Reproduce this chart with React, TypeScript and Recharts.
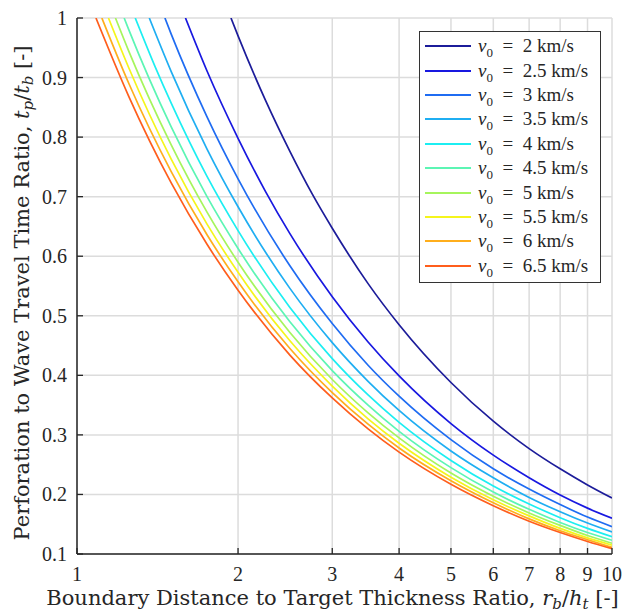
import React from 'react';
import { LineChart, Line, XAxis, YAxis, CartesianGrid } from 'recharts';

// impact velocities, km/s
const velocities = [2, 2.5, 3, 3.5, 4, 4.5, 5, 5.5, 6, 6.5];
const colors = ['#1c1c9a', '#1818e0', '#1f6cf2', '#1faef2', '#1ceef2', '#5cf5b4', '#a6f55c', '#f5f51c', '#ffae1c', '#ff5e1c'];

// r_b/h_t samples and t_p/t_b
const xV20 = [1.94, 2, 2.25, 2.5, 2.75, 3, 3.5, 4, 5, 6, 7, 8, 9, 10];
const yV20 = [1, 0.97, 0.862, 0.776, 0.705, 0.647, 0.554, 0.485, 0.388, 0.323, 0.277, 0.243, 0.216, 0.194];
const xV25 = [1.595, 1.75, 2, 2.25, 2.5, 3, 3.5, 4, 5, 6, 7, 8, 9, 10];
const yV25 = [1, 0.911, 0.798, 0.709, 0.638, 0.532, 0.456, 0.399, 0.319, 0.266, 0.228, 0.199, 0.177, 0.16];
const xV30 = [1.46, 1.5, 1.75, 2, 2.5, 3, 3.5, 4, 5, 6, 7, 8, 9, 10];
const yV30 = [1, 0.973, 0.834, 0.73, 0.584, 0.487, 0.417, 0.365, 0.292, 0.243, 0.209, 0.183, 0.162, 0.146];
const xV35 = [1.365, 1.5, 1.75, 2, 2.5, 3, 3.5, 4, 5, 6, 7, 8, 9, 10];
const yV35 = [1, 0.91, 0.78, 0.683, 0.546, 0.455, 0.39, 0.341, 0.273, 0.228, 0.195, 0.171, 0.152, 0.137];
const xV40 = [1.285, 1.4, 1.5, 1.75, 2, 2.5, 3, 3.5, 4, 5, 6, 7, 8, 9, 10];
const yV40 = [1, 0.918, 0.857, 0.734, 0.643, 0.514, 0.428, 0.367, 0.321, 0.257, 0.214, 0.184, 0.161, 0.143, 0.129];
const xV45 = [1.225, 1.25, 1.5, 1.75, 2, 2.5, 3, 3.5, 4, 5, 6, 7, 8, 9, 10];
const yV45 = [1, 0.98, 0.817, 0.7, 0.613, 0.49, 0.408, 0.35, 0.306, 0.245, 0.204, 0.175, 0.153, 0.136, 0.123];
const xV50 = [1.18, 1.25, 1.5, 1.75, 2, 2.5, 3, 3.5, 4, 5, 6, 7, 8, 9, 10];
const yV50 = [1, 0.944, 0.787, 0.674, 0.59, 0.472, 0.393, 0.337, 0.295, 0.236, 0.197, 0.169, 0.148, 0.131, 0.118];
const xV55 = [1.145, 1.25, 1.5, 1.75, 2, 2.5, 3, 3.5, 4, 5, 6, 7, 8, 9, 10];
const yV55 = [1, 0.916, 0.763, 0.654, 0.573, 0.458, 0.382, 0.327, 0.286, 0.229, 0.191, 0.164, 0.143, 0.127, 0.115];
const xV60 = [1.113, 1.25, 1.5, 1.75, 2, 2.5, 3, 3.5, 4, 5, 6, 7, 8, 9, 10];
const yV60 = [1, 0.89, 0.742, 0.636, 0.557, 0.445, 0.371, 0.318, 0.278, 0.223, 0.186, 0.159, 0.139, 0.124, 0.111];
const xV65 = [1.085, 1.25, 1.5, 1.75, 2, 2.5, 3, 3.5, 4, 5, 6, 7, 8, 9, 10];
const yV65 = [1, 0.868, 0.723, 0.62, 0.543, 0.434, 0.362, 0.31, 0.271, 0.217, 0.181, 0.155, 0.136, 0.121, 0.109];

const xTicks = [1, 2, 3, 4, 5, 6, 7, 8, 9, 10];
const yTicks = [0.1, 0.2, 0.3, 0.4, 0.5, 0.6, 0.7, 0.8, 0.9, 1];

const xSets = [xV20, xV25, xV30, xV35, xV40, xV45, xV50, xV55, xV60, xV65];
const ySets = [yV20, yV25, yV30, yV35, yV40, yV45, yV50, yV55, yV60, yV65];

const series = velocities.map((v, i) => ({
  v,
  color: colors[i],
  data: xSets[i].map((x, j) => ({ x, y: ySets[i][j] })),
}));

const INK = '#262626';
const TICK_LEN = 6;
const TICK_FONT = 'Liberation Serif';
const TITLE_FONT = 'DejaVu Serif';

const BottomTick = ({ x, y, payload }: any) => (
  <g>
    <line x1={x} x2={x} y1={y} y2={y - TICK_LEN} stroke={INK} strokeWidth={1.3} />
    <text x={x} y={y + 27} textAnchor="middle" fontFamily={TICK_FONT} fontSize={20} fill={INK}>
      {payload.value}
    </text>
  </g>
);

const LeftTick = ({ x, y, payload }: any) => (
  <g>
    <line x1={x} x2={x + TICK_LEN} y1={y} y2={y} stroke={INK} strokeWidth={1.3} />
    <text x={x - 10} y={y + 7} textAnchor="end" fontFamily={TICK_FONT} fontSize={20} fill={INK}>
      {payload.value}
    </text>
  </g>
);

const TopTick = ({ x, y }: any) => (
  <line x1={x} x2={x} y1={y} y2={y + TICK_LEN} stroke={INK} strokeWidth={1.3} />
);

const RightTick = ({ x, y }: any) => (
  <line x1={x} x2={x - TICK_LEN} y1={y} y2={y} stroke={INK} strokeWidth={1.3} />
);

const XTitle = ({ viewBox }: any) => {
  const cx = viewBox.x + viewBox.width / 2 - 12;
  return (
    <text x={cx} y={viewBox.y + 51} textAnchor="middle" fontFamily={TITLE_FONT} fontSize={21} fill={INK}>
      Boundary Distance to Target Thickness Ratio,{' '}
      <tspan fontStyle="italic">r</tspan>
      <tspan fontStyle="italic" fontSize={15} dy={4}>b</tspan>
      <tspan dy={-4}>/</tspan>
      <tspan fontStyle="italic">h</tspan>
      <tspan fontStyle="italic" fontSize={15} dy={4}>t</tspan>
      <tspan dy={-4}> [-]</tspan>
    </text>
  );
};

const YTitle = ({ viewBox }: any) => {
  const cy = viewBox.y + viewBox.height / 2 + 7;
  const cx = 29;
  return (
    <text
      x={cx}
      y={cy}
      transform={`rotate(-90 ${cx} ${cy})`}
      textAnchor="middle"
      fontFamily={TITLE_FONT}
      fontSize={21}
      fill={INK}
    >
      Perforation to Wave Travel Time Ratio,{' '}
      <tspan fontStyle="italic">t</tspan>
      <tspan fontStyle="italic" fontSize={15} dy={4}>p</tspan>
      <tspan dy={-4}>/</tspan>
      <tspan fontStyle="italic">t</tspan>
      <tspan fontStyle="italic" fontSize={15} dy={4}>b</tspan>
      <tspan dy={-4}> [-]</tspan>
    </text>
  );
};

const LegendBox = () => (
  <div
    style={{
      position: 'absolute',
      left: 419,
      top: 31,
      width: 180,
      padding: '2px 0 4px 0',
      border: '1.5px solid #333',
      background: '#fff',
      fontFamily: TICK_FONT,
      fontSize: 19,
      color: INK,
    }}
  >
    {series.map((s) => (
      <div key={s.v} style={{ display: 'flex', alignItems: 'center', height: 24.4 }}>
        <span style={{ display: 'inline-block', width: 46, height: 2, marginLeft: 5, marginRight: 7, background: s.color }} />
        <span style={{ whiteSpace: 'pre' }}>
          <i>v</i>
          <sub style={{ fontSize: 13, lineHeight: 0 }}>0</sub>
          {'\u2002=\u2002'}
          {s.v}
          {' km/s'}
        </span>
      </div>
    ))}
  </div>
);

export default function App() {
  return (
    <div style={{ position: 'absolute', left: 0, top: 0, width: 634, height: 614 }}>
      <LineChart width={634} height={614} margin={{ top: 18, right: 22, left: 0, bottom: 0 }}>
        <CartesianGrid stroke="#dcdcdc" strokeWidth={1.5} horizontalValues={yTicks} verticalValues={xTicks} />
        <XAxis
          dataKey="x"
          type="number"
          scale="log"
          domain={[1, 10]}
          allowDataOverflow
          ticks={xTicks}
          interval={0}
          height={60}
          tickSize={0}
          tickMargin={0}
          tickLine={false}
          tick={<BottomTick />}
          axisLine={{ stroke: INK, strokeWidth: 1.5 }}
          label={<XTitle />}
        />
        <XAxis
          xAxisId="top"
          orientation="top"
          dataKey="x"
          type="number"
          scale="log"
          domain={[1, 10]}
          allowDataOverflow
          ticks={xTicks}
          interval={0}
          height={0}
          tickSize={0}
          tickMargin={0}
          tickLine={false}
          tick={<TopTick />}
          axisLine={{ stroke: INK, strokeWidth: 1.5 }}
        />
        <YAxis
          type="number"
          domain={[0.1, 1]}
          allowDataOverflow
          ticks={yTicks}
          interval={0}
          width={77}
          tickSize={0}
          tickMargin={0}
          tickLine={false}
          tick={<LeftTick />}
          axisLine={{ stroke: INK, strokeWidth: 1.5 }}
          label={<YTitle />}
        />
        <YAxis
          yAxisId="right"
          orientation="right"
          type="number"
          domain={[0.1, 1]}
          allowDataOverflow
          ticks={yTicks}
          interval={0}
          width={0}
          tickSize={0}
          tickMargin={0}
          tickLine={false}
          tick={<RightTick />}
          axisLine={{ stroke: INK, strokeWidth: 1.5 }}
        />
        {series.map((s) => (
          <Line
            key={s.v}
            data={s.data}
            dataKey="y"
            type="monotone"
            stroke={s.color}
            strokeWidth={1.7}
            dot={false}
            activeDot={false}
            isAnimationActive={false}
          />
        ))}
      </LineChart>
      <LegendBox />
    </div>
  );
}
